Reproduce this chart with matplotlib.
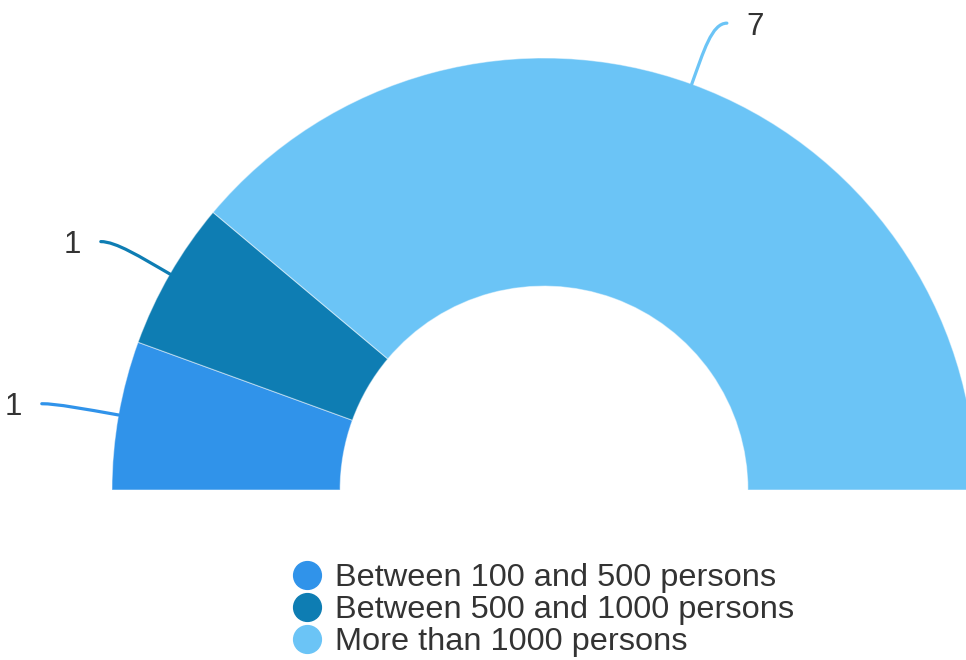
import numpy as np
import matplotlib
matplotlib.use("Agg")
import matplotlib.pyplot as plt
from matplotlib.path import Path
from matplotlib.patches import PathPatch
from matplotlib.lines import Line2D

plt.rcParams['font.family'] = ['Liberation Sans', 'DejaVu Sans']

# ---- data ----
categories = ["Between 100 and 500 persons",
              "Between 500 and 1000 persons",
              "More than 1000 persons"]
values = [1, 1, 7]
colors = ["#3093ea", "#0e7db3", "#6bc4f6"]

W, H = 966, 660
fig = plt.figure(figsize=(W / 100, H / 100), dpi=100)
ax = fig.add_axes([0, 0, 1, 1])

# half donut: add an invisible wedge as big as the total for the lower half
total = sum(values)
wedges, _ = ax.pie(values + [total],
                   colors=colors + ["none"],
                   startangle=180, counterclock=False,
                   radius=1.0,
                   wedgeprops=dict(width=0.528, edgecolor=(1, 1, 1, 0.45), linewidth=0.8))
wedges[-1].set_edgecolor("none")

# labels with curved leader lines
start = 180.0
for v, c in zip(values, colors):
    span = 180.0 * v / total
    mid = np.deg2rad(start - span / 2)
    start -= span
    ca, sa = np.cos(mid), np.sin(mid)
    side = 1 if ca > 0 else -1
    p0 = np.array([ca, sa])
    p3 = np.array([1.15 * ca + side * 0.03, 1.15 * sa])
    c1 = p0 + 0.08 * np.array([ca, sa])
    c2 = np.array([p3[0] - side * 0.035, p3[1]])
    path = Path([p0, c1, c2, p3], [Path.MOVETO, Path.CURVE4, Path.CURVE4, Path.CURVE4])
    ax.add_patch(PathPatch(path, fc="none", ec=c, lw=2.3, capstyle="round"))
    ax.text(p3[0] + side * 0.045, p3[1] - 0.008, str(v),
            ha="left" if side > 0 else "right", va="center",
            fontsize=22.5, color="#333333")

cx, cy, r = 544, 490, 432
ax.set_xlim(-cx / r, (W - cx) / r)
ax.set_ylim(-(H - cy) / r, cy / r)
ax.set_aspect("equal")
ax.axis("off")

handles = [Line2D([], [], marker="o", linestyle="none", markersize=20,
                  markerfacecolor=c, markeredgecolor=c) for c in colors]
fig.legend(handles, categories, loc="upper left",
           bbox_to_anchor=(291 / W, 1 - 563 / H),
           frameon=False, fontsize=23.4, labelcolor="#333333",
           handlelength=1.0, handletextpad=0.35, labelspacing=0.06,
           borderpad=0, borderaxespad=0)

fig.savefig("out.png", dpi=100)
